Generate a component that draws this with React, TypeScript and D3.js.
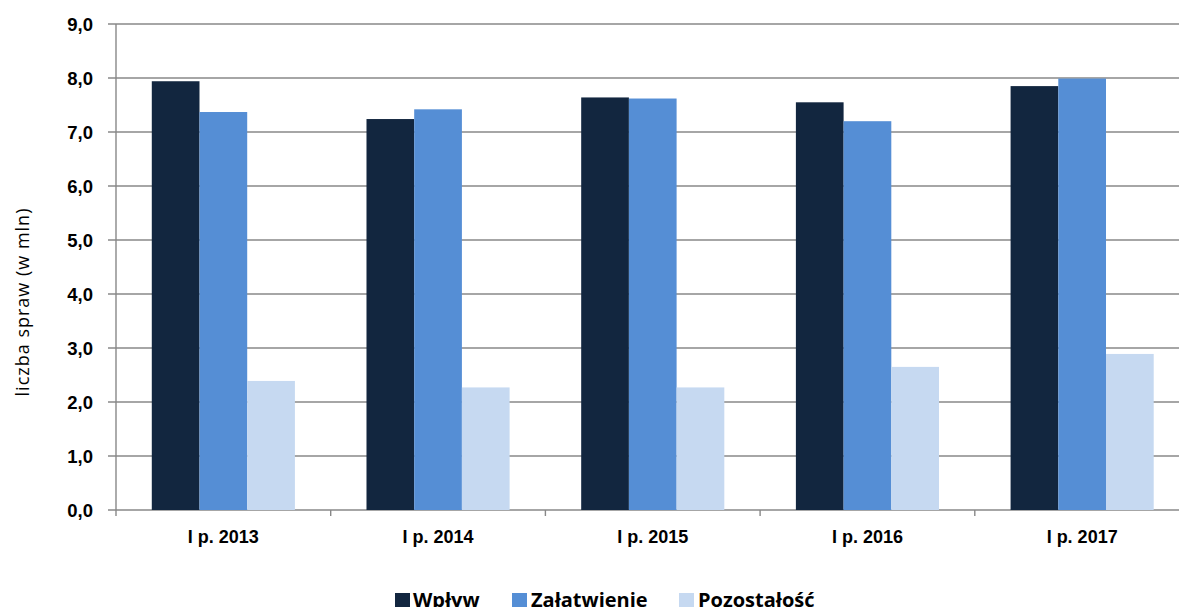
import React from "react";
import * as d3 from "d3";

const categories = ["I p. 2013", "I p. 2014", "I p. 2015", "I p. 2016", "I p. 2017"];
const seriesNames = ["Wpływ", "Załatwienie", "Pozostałość"];
const wplyw = [7.94, 7.24, 7.64, 7.55, 7.85];
const zalatwienie = [7.37, 7.42, 7.62, 7.2, 7.99];
const pozostalosc = [2.39, 2.27, 2.27, 2.65, 2.89];
const yTicks = [0, 1, 2, 3, 4, 5, 6, 7, 8, 9];
const colors = ["#12263F", "#558ED5", "#C6D9F1"];

const W = 1179;
const H = 607;
const left = 116;
const right = 1189.5;
const top = 24;
const bottom = 510;

export default function App() {
  const series = [wplyw, zalatwienie, pozostalosc];
  const x = d3.scaleBand<string>().domain(categories).range([left, right]).padding(0);
  const y = d3.scaleLinear().domain([0, 9]).range([bottom, top]);
  const bw = x.bandwidth();
  const barW = bw * 0.2222;
  const groupOffset = (bw - barW * 3) / 2;
  const fmt = (v: number) => v.toFixed(1).replace(".", ",");
  const grid = "#888888";

  const legendItems = [
    { sq: 395, tx: 413 },
    { sq: 512, tx: 531 },
    { sq: 679, tx: 698 },
  ];

  return (
    <svg width={W} height={H} style={{ position: "absolute", left: 0, top: 0, background: "#fff" }}>
      {yTicks.map((t) => (
        <g key={t}>
          <line x1={108} x2={right} y1={y(t)} y2={y(t)} stroke={grid} strokeWidth={1.4} />
          <text
            x={93}
            y={y(t)}
            dy="0.36em"
            textAnchor="end"
            fontFamily="Liberation Sans, Arial, sans-serif"
            fontWeight="bold"
            fontSize={18.5}
            fill="#000"
          >
            {fmt(t)}
          </text>
        </g>
      ))}
      <line x1={left} x2={left} y1={top} y2={bottom + 6} stroke={grid} strokeWidth={1.4} />
      {categories.map((c, i) => (
        <line key={"t" + i} x1={x(c)! + bw} x2={x(c)! + bw} y1={bottom} y2={bottom + 6} stroke={grid} strokeWidth={1.4} />
      ))}
      {categories.map((c, i) => (
        <g key={c}>
          {series.map((s, j) => (
            <rect
              key={j}
              x={x(c)! + groupOffset + j * barW}
              y={y(s[i])}
              width={barW}
              height={bottom - y(s[i])}
              fill={colors[j]}
            />
          ))}
          <text
            x={x(c)! + bw / 2}
            y={543}
            textAnchor="middle"
            fontFamily="Liberation Sans, Arial, sans-serif"
            fontWeight="bold"
            fontSize={18}
            fill="#000"
          >
            {c}
          </text>
        </g>
      ))}
      <text
        transform={`translate(29,302) rotate(-90)`}
        textAnchor="middle"
        fontFamily="Open Sans, sans-serif"
        fontSize={18}
        letterSpacing={1}
        fill="#000"
      >
        liczba spraw (w mln)
      </text>
      {seriesNames.map((n, j) => (
        <g key={n}>
          <rect x={legendItems[j].sq} y={593} width={15} height={15} fill={colors[j]} />
          <text
            x={legendItems[j].tx}
            y={607}
            fontFamily="Open Sans, sans-serif"
            fontWeight="bold"
            fontSize={20}
            fill="#000"
          >
            {n}
          </text>
        </g>
      ))}
    </svg>
  );
}
